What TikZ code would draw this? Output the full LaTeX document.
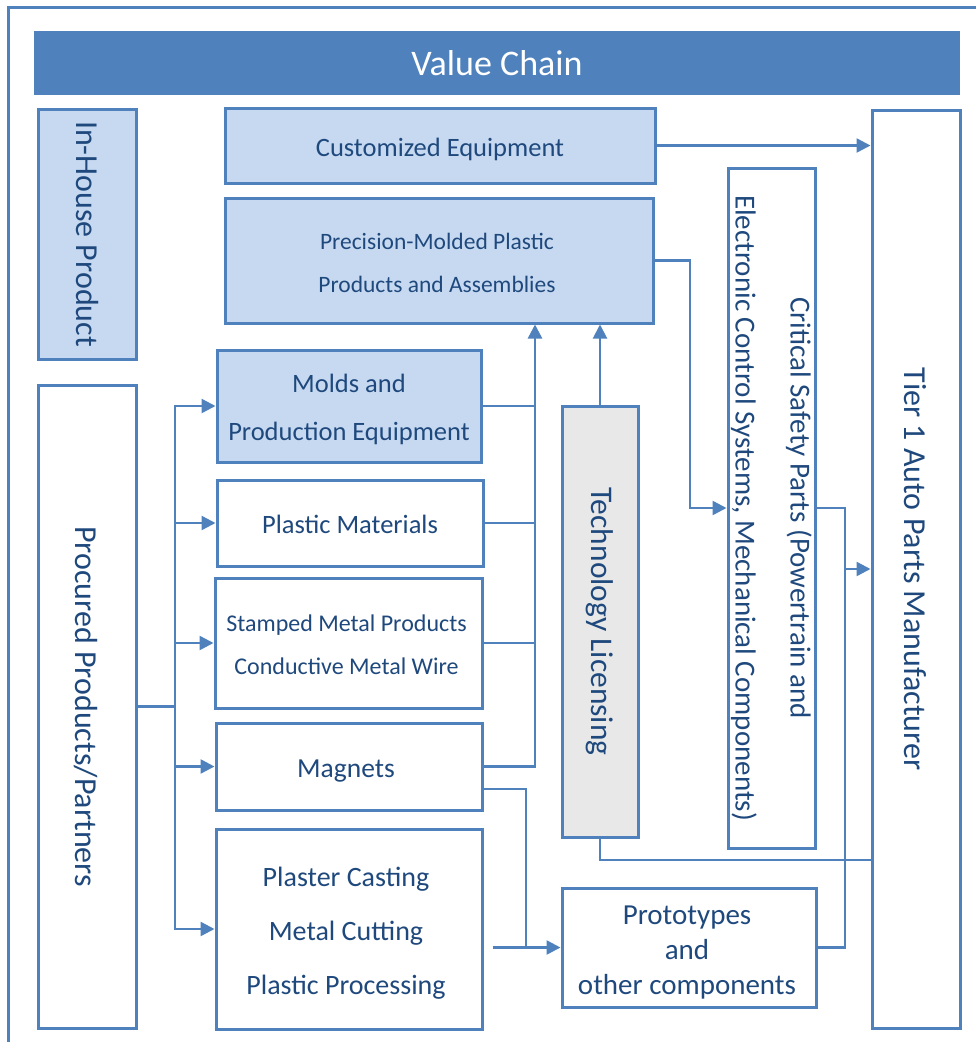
\documentclass[tikz,border=0pt]{standalone}
\usepackage{fontspec}
\setmainfont{Carlito}
\usetikzlibrary{arrows.meta,calc}
\definecolor{bc}{HTML}{4F81BD}
\definecolor{lf}{HTML}{C6D9F1}
\definecolor{gf}{HTML}{E8E8E8}
\definecolor{tc}{HTML}{1F497D}
\newcommand{\myfs}[2]{\fontsize{#1}{#2}\selectfont}
\begin{document}
\begin{tikzpicture}[x=1pt,y=-1pt,
 bx/.style={draw=bc, line width=3pt, inner sep=0pt},
 lbx/.style={bx, fill=lf},
 wbx/.style={bx, fill=white},
 gbx/.style={bx, fill=gf},
 txt/.style={text=tc, align=center, inner sep=0pt},
 rtxt/.style={txt, rotate=-90},
 conn/.style={draw=bc, line width=2.5pt},
 thinconn/.style={draw=bc, line width=2pt},
 arr/.style={conn, -{Triangle[length=14pt,width=14pt]}},
 arrt/.style={thinconn, -{Triangle[length=14pt,width=14pt]}},
]
\useasboundingbox (0,0) rectangle (976,1042);
% outer frame
\draw[bc, line width=3pt] (8,7) rectangle (1010,1090);
% title
\node[fill=bc, minimum width=926pt, minimum height=64pt, inner sep=0pt, text=white, font={\myfs{36}{40}}] (title) at (497,63) {Value Chain};
% left column
\node[lbx, minimum width=98pt, minimum height=250pt] (inhouse) at (87,234) {};
\node[rtxt, font={\myfs{32}{36}}] (inhouseT) at (inhouse.center) {In-House Product};
\node[wbx, minimum width=98pt, minimum height=643pt] (procured) at (87,706.5) {};
\node[rtxt, font={\myfs{32}{36}}] (procuredT) at ($(procured.center)+(-1,0)$) {Procured Products/Partners};
% top boxes
\node[lbx, minimum width=430pt, minimum height=75pt] (custom) at (440,145.5) {};
\node[txt, font={\myfs{26.5}{30}}] (customT) at ($(custom.center)+(0,4)$) {Customized Equipment};
\node[lbx, minimum width=428pt, minimum height=125pt] (precision) at (439,260.5) {};
\node[txt, font={\myfs{23.5}{43}}] (precisionT) at ($(precision.center)+(-2,2.5)$) {Precision-Molded Plastic\\Products and Assemblies};
% middle column
\node[lbx, minimum width=264pt, minimum height=112pt] (molds) at (349,406) {};
\node[txt, font={\myfs{26.5}{48}}] (moldsT) at ($(molds.center)+(0,3.5)$) {Molds and\\Production Equipment};
\node[wbx, minimum width=266pt, minimum height=86pt] (plastic) at (350,523) {};
\node[txt, font={\myfs{26.5}{30}}] (plasticT) at ($(plastic.center)+(0,1)$) {Plastic Materials};
\node[wbx, minimum width=267pt, minimum height=130pt] (stamped) at (348.5,643) {};
\node[txt, font={\myfs{24}{43}}] (stampedT) at ($(stamped.center)+(-2,2)$) {Stamped Metal Products\\Conductive Metal Wire};
\node[wbx, minimum width=266pt, minimum height=87pt] (magnets) at (349,766.5) {};
\node[txt, font={\myfs{27.5}{30}}] (magnetsT) at ($(magnets.center)+(-3,5)$) {Magnets};
\node[wbx, minimum width=266pt, minimum height=200pt] (plaster) at (349,929) {};
\node[txt, font={\myfs{28}{54}}] (plasterT) at ($(plaster.center)+(-3,4)$) {Plaster Casting\\Metal Cutting\\Plastic Processing};
% technology licensing
\node[gbx, minimum width=76pt, minimum height=431pt] (tech) at (600,621.5) {};
\node[rtxt, font={\myfs{31.5}{36}}] (techT) at (tech.center) {Technology Licensing};
% critical safety parts
\node[wbx, minimum width=87pt, minimum height=680pt] (critical) at (771.5,508) {};
\node[rtxt, font={\myfs{29}{55}}] (criticalT) at (critical.center) {Critical Safety Parts (Powertrain and\\Electronic Control Systems, Mechanical Components)};
% tier 1
\node[wbx, minimum width=88pt, minimum height=918pt] (tier1) at (916,569) {};
\node[rtxt, font={\myfs{32}{36}}] (tier1T) at ($(tier1.center)+(-1,0)$) {Tier 1 Auto Parts Manufacturer};
% prototypes
\node[wbx, minimum width=254pt, minimum height=119pt] (proto) at (689,947.5) {};
\node[txt, font={\myfs{29}{35}}] (protoT) at ($(proto.center)+(-2,5)$) {Prototypes\\and\\other components};

% connectors: procured bus
\coordinate (bus) at (175,706.5);
\draw[conn] (procured.east) -- (bus);
\foreach \n in {molds,plastic,stamped,magnets,plaster} \draw[arr] (bus) |- (\n.west);
% collector to precision
\coordinate (cx) at (535,0);
\draw[arr] (magnets.east) -| (precision.south -| cx);
\foreach \n in {molds,plastic,stamped} \draw[conn] (\n.east) -- (\n.east -| cx);
% technology licensing
\draw[arrt] (tech.north) -- (tech.north |- precision.south);
\coordinate (tb) at ($(tech.south)+(0,21)$);
\draw[thinconn] (tech.south) -- (tb) -- (tb -| tier1.west);
% customized equipment to tier 1
\draw[arr] (custom.east) -- (custom.east -| tier1.west);
% precision to critical
\coordinate (px) at (690,0);
\draw[arr] (precision.east) -- (precision.east -| px) |- (critical.west);
% critical and prototypes to tier 1
\coordinate (qx) at (845,0);
\draw[arr] (critical.east) -- (critical.east -| qx) |- (tier1.west);
\draw[conn] (proto.east) -| (tier1.west -| qx);
% magnets and plaster to prototypes
\coordinate (m2) at ($(magnets.east)+(0,22.5)$);
\coordinate (mx) at (526,0);
\draw[arr] (m2) -- (m2 -| mx) |- (proto.west);
\coordinate (pl) at ($(plaster.east |- proto.west)+(9,0)$);
\draw[conn] (pl) -- (proto.west -| mx);
\end{tikzpicture}
\end{document}
